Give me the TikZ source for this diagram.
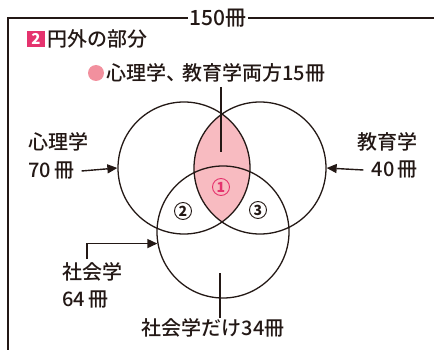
\documentclass[tikz,border=0pt]{standalone}
\usepackage{fontspec}
\setmainfont{Noto Sans CJK JP Medium}
\usetikzlibrary{arrows.meta}
\definecolor{ink}{HTML}{231815}
\definecolor{lens}{HTML}{F8BBC1}
\definecolor{mag}{HTML}{E5336E}
\definecolor{dotc}{HTML}{F2909E}
\tikzset{
  venn/.style={circle, draw=ink, line width=1.3pt, minimum size=132pt, inner sep=0pt},
  lbl/.style={inner sep=0pt, text=ink, font=\fontsize{20}{24}\selectfont},
  arr/.style={draw=ink, line width=1.4pt, -{Triangle[length=10pt,width=9pt]}},
  tick/.style={draw=ink, line width=1.7pt},
  num/.style={circle, draw=ink, line width=0.9pt, minimum size=17pt, inner sep=0pt, text=ink, font=\fontsize{14}{14}\selectfont\bfseries}
}
\begin{document}
\begin{tikzpicture}[x=1pt,y=-1pt]
\useasboundingbox (0,0) rectangle (434,350);
% frame
\draw[ink, line width=1.5pt] (8,350) -- (8,18) -- (434,18);
\node[lbl, fill=white, inner xsep=2pt, font=\fontsize{21}{24}\selectfont] (total) at (218,18) {150冊};
% title
\node[fill=mag, text=white, minimum width=18pt, minimum height=16pt, inner sep=0pt, font=\fontsize{15}{15}\selectfont\bfseries] (two) at (36,39) {2};
\node[lbl, anchor=west] (outside) at (47,39) {円外の部分};
% lens fill
\begin{scope}
  \clip (184,168) circle (66);
  \fill[lens] (260,168) circle (66);
\end{scope}
% circles
\node[venn] (L) at (184,168) {};
\node[venn] (R) at (260,168) {};
\node[venn] (S) at (223,232) {};
% both label
\node[circle, fill=dotc, minimum size=16pt, inner sep=0pt] (dot) at (96,73) {};
\node[lbl, anchor=west] (both) at (106,73) {心理学、\kern-4pt 教育学両方15冊};
\coordinate (bothtop) at (221,87);
\coordinate (bothend) at (221,152);
\draw[tick] (bothtop) -- (bothend);
% region numbers
\node[num, draw=mag, text=mag] (n1) at (221,187) {1};
\node[num] (n2) at (183,211) {2};
\node[num] (n3) at (258,210) {3};
% psychology
\node[lbl, anchor=west] (psy) at (28,142) {心理学};
\node[lbl, anchor=west] (psyn) at (28,171) {70\,冊};
\draw[arr] ([xshift=7pt]psyn.east) -- (L.west);
% education
\node[lbl, anchor=east] (edu) at (418,142) {教育学};
\node[lbl, anchor=east] (edun) at (418,170) {40\,冊};
\draw[arr] ([xshift=-8pt]edun.west) -- (R.east);
% sociology
\node[lbl, anchor=west] (soc) at (62,272) {社会学};
\node[lbl, anchor=west] (socn) at (62,300) {64\,冊};
\coordinate (socstart) at (87,259);
\draw[arr] (socstart) |- (S.190);
% sociology only
\node[lbl] (soconly) at (213,328) {社会学だけ34冊};
\coordinate (sotop) at (220,273);
\draw[tick] (sotop) -- (soconly.north -| sotop);
\end{tikzpicture}
\end{document}
